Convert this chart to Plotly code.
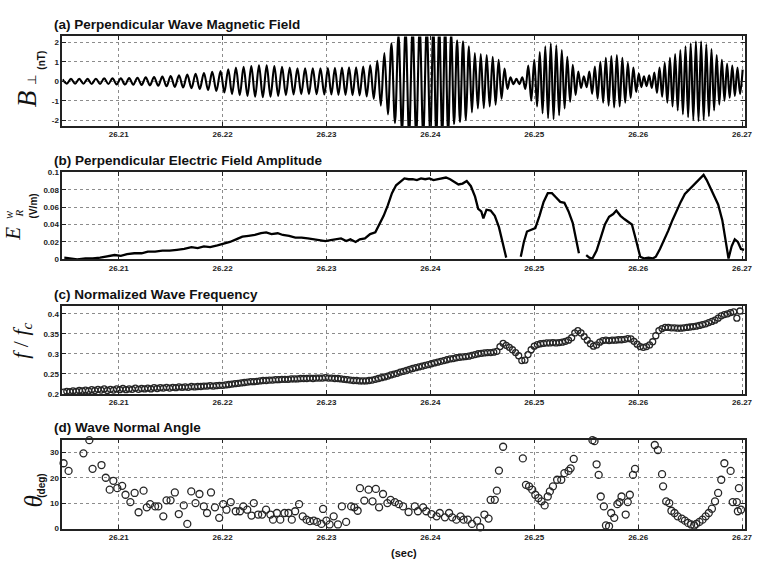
import numpy as np
import plotly.graph_objects as go

# ---------------- data (times in ms after 26.200 s) ----------------
x_tickvals = [26.21, 26.22, 26.23, 26.24, 26.25, 26.26, 26.27]
x_ticktext = ["26.21", "26.22", "26.23", "26.24", "26.25", "26.26", "26.27"]

# (a) perpendicular wave magnetic field: successive wave extrema (nT)
bperp_t_ms = [
    4.6, 5.0, 5.4, 5.8, 6.2, 6.6, 7.0, 7.4, 7.8, 8.2, 8.6, 9.0, 9.4, 9.8,
    10.2, 10.6, 11.0, 11.4, 11.8, 12.2, 12.6, 13.0, 13.4, 13.8, 14.2, 14.6, 15.0,
    15.4, 15.8, 16.2, 16.6, 17.0, 17.4, 17.8, 18.2, 18.6, 19.0, 19.4, 19.8,
    20.17, 20.54, 20.91, 21.28, 21.65, 22.02, 22.39, 22.76, 23.13, 23.50, 23.87,
    24.24, 24.61, 24.98, 25.35, 25.72, 26.09, 26.46, 26.83, 27.20, 27.57, 27.94,
    28.31, 28.68, 29.05, 29.42, 29.79,
    30.13, 30.47, 30.81, 31.15, 31.49, 31.83, 32.17, 32.51, 32.85, 33.19, 33.53,
    33.87, 34.21, 34.55, 34.89, 35.23, 35.57, 35.91, 36.25, 36.59, 36.93, 37.27,
    37.61, 37.95, 38.29, 38.63, 38.97, 39.31, 39.65, 39.99,
    40.28, 40.57, 40.85, 41.14, 41.42, 41.71, 42.00, 42.28, 42.57, 42.85, 43.14,
    43.42, 43.71, 44.00, 44.28, 44.57, 44.85, 45.14, 45.42, 45.71, 46.00, 46.28,
    46.57, 46.85, 47.14, 47.42, 47.71, 48.00, 48.28, 48.57, 48.85, 49.14, 49.42,
    49.71, 50.00,
    50.27, 50.53, 50.80, 51.06, 51.33, 51.59, 51.86, 52.12, 52.39, 52.65, 52.92,
    53.18, 53.45, 53.71, 53.98, 54.24, 54.51, 54.77, 55.04, 55.30, 55.57, 55.83,
    56.10, 56.36, 56.63, 56.89, 57.16, 57.42, 57.69, 57.95, 58.22, 58.48, 58.75,
    59.01, 59.28, 59.54, 59.81,
    60.06, 60.31, 60.56, 60.81, 61.06, 61.31, 61.56, 61.81, 62.06, 62.31, 62.56,
    62.81, 63.06, 63.31, 63.56, 63.81, 64.06, 64.31, 64.56, 64.81, 65.06, 65.31,
    65.56, 65.81, 66.06, 66.31, 66.56, 66.81, 67.06, 67.31, 67.56, 67.81, 68.06,
    68.31, 68.56, 68.81, 69.06, 69.31, 69.56, 69.81, 70.06,
]
bperp_nT = [
    0.10, -0.12, 0.12, -0.13, 0.12, -0.13, 0.12, -0.14, 0.13, -0.14, 0.15, -0.14, 0.15, -0.16,
    0.15, -0.17, 0.16, -0.18, 0.18, -0.19, 0.2, -0.21, 0.22, -0.23, 0.24, -0.26, 0.27,
    -0.29, 0.3, -0.32, 0.34, -0.36, 0.38, -0.4, 0.42, -0.45, 0.48, -0.5, 0.53,
    -0.58, 0.62, -0.66, 0.7, -0.72, 0.74, -0.76, 0.78, -0.8, 0.82, -0.82,
    0.82, -0.8, 0.78, -0.76, 0.74, -0.72, 0.7, -0.68, 0.67, -0.66, 0.66,
    -0.66, 0.66, -0.67, 0.67, -0.68,
    0.68, -0.68, 0.69, -0.7, 0.7, -0.7, 0.71, -0.72, 0.72, -0.73, 0.75,
    -0.78, 0.82, -0.9, 1.05, -1.25, 1.45, -1.7, 1.95, -2.15, 2.4, -2.6,
    2.7, -2.8, 2.8, -2.8, 2.8, -2.8, 2.8, -2.8,
    2.8, -2.8, 2.8, -2.8, 2.8, -2.7, 2.5, -2.2, 2.1, -2.1, 2.05,
    -2.0, 1.8, -1.6, 1.45, -1.4, 1.4, -1.38, 1.35, -1.3, 1.25, -1.2,
    1.1, -0.9, 0.65, -0.4, 0.2, -0.15, 0.12, -0.15, 0.2, -0.4, 0.8,
    -1.0, 1.1,
    -1.3, 1.5, -1.65, 1.8, -1.9, 1.95, -1.95, 1.85, -1.75, 1.6, -1.4,
    1.25, -1.05, 0.85, -0.7, 0.5, -0.35, 0.25, -0.3, 0.5, -0.65, 0.75,
    -0.9, 1.0, -1.1, 1.2, -1.25, 1.3, -1.35, 1.35, -1.3, 1.2, -1.1,
    0.95, -0.85, 0.7, -0.55,
    0.4, -0.3, 0.25, -0.25, 0.3, -0.35, 0.45, -0.6, 0.7, -0.8, 0.95,
    -1.1, 1.2, -1.3, 1.4, -1.5, 1.6, -1.7, 1.8, -1.85, 1.95, -2.0,
    2.05, -2.05, 2.05, -2.0, 1.9, -1.8, 1.65, -1.5, 1.35, -1.2, 1.1,
    -1.0, 0.9, -0.85, 0.8, -0.75, 0.7, -0.65, 0.6,
]

# (b) perpendicular electric field amplitude (V/m); None = data gap
efield_t_ms = [
    4.76, 5.3, 6.0, 6.8, 7.5, 8.2, 9.0, 9.6, 10.2, 10.8, 11.5, 12.2, 12.8, 13.5, 14.2,
    14.9, 15.6, 16.3, 17.0, 17.6, 18.2, 18.8, 19.5, 20.1, 20.7, 21.3, 21.9, 22.5, 23.1,
    23.7, 24.2, 24.7, 25.3, 25.8, 26.4, 27.0, 27.6, 28.2, 28.8, 29.4, 29.9, 30.4, 30.9,
    31.4, 31.9, 32.3, 32.8, 33.2, 33.7, 34.2, 34.7, 35.1, 35.5, 35.9, 36.3, 36.7, 37.1,
    37.5, 37.9, 38.3, 38.7, 39.1, 39.5, 39.9, 40.3, 40.7, 41.1, 41.5, 41.9, 42.3, 42.7,
    43.1, 43.5, 43.9, 44.3, 44.6, 44.9, 45.1, 45.4, 45.8, 46.2, 46.6, 47.0, 47.3,
    48.0,
    48.7, 49.0, 49.3, 49.7, 50.1, 50.5, 50.9, 51.3, 51.7, 52.1, 52.5, 52.9, 53.3, 53.7,
    54.0, 54.3,
    54.6,
    55.0, 55.3, 55.6, 56.0, 56.4, 56.8, 57.2, 57.6, 57.9, 58.3, 58.7, 59.1, 59.4, 59.8,
    60.2, 60.6, 61.0, 61.4, 61.7, 62.1, 62.5, 62.9, 63.3, 63.7, 64.1, 64.5, 64.9, 65.3,
    65.7, 66.0, 66.3, 66.6, 66.9, 67.3, 67.7, 68.1, 68.4, 68.7, 69.0, 69.3, 69.6, 69.9,
    70.2,
]
efield_vm = [
    0.002, 0.001, 0.0, 0.001, 0.001, 0.002, 0.004, 0.005, 0.004, 0.006, 0.007, 0.007, 0.009, 0.009, 0.010,
    0.010, 0.011, 0.012, 0.014, 0.013, 0.015, 0.014, 0.016, 0.018, 0.020, 0.023, 0.026, 0.027, 0.028,
    0.030, 0.031, 0.029, 0.030, 0.028, 0.027, 0.025, 0.025, 0.024, 0.023, 0.022, 0.021, 0.022, 0.023,
    0.024, 0.021, 0.023, 0.020, 0.023, 0.024, 0.029, 0.031, 0.040, 0.050, 0.062, 0.076, 0.085, 0.089,
    0.093, 0.092, 0.092, 0.091, 0.093, 0.092, 0.093, 0.091, 0.092, 0.093, 0.094, 0.092, 0.089, 0.086,
    0.087, 0.090, 0.084, 0.072, 0.058, 0.055, 0.047, 0.057, 0.056, 0.050, 0.037, 0.018, 0.002,
    None,
    0.003, 0.020, 0.032, 0.034, 0.036, 0.050, 0.066, 0.076, 0.076, 0.071, 0.066, 0.065, 0.055, 0.042,
    0.025, 0.007,
    None,
    0.005, 0.002, 0.001, 0.010, 0.025, 0.040, 0.049, 0.052, 0.056, 0.050, 0.046, 0.043, 0.040, 0.022,
    0.003, 0.001, 0.002, 0.001, 0.003, 0.012, 0.022, 0.033, 0.045, 0.056, 0.066, 0.075, 0.080, 0.085,
    0.090, 0.093, 0.097, 0.091, 0.083, 0.073, 0.063, 0.045, 0.025, 0.001, 0.015, 0.023, 0.020, 0.012,
    0.011,
]

# (c) normalized wave frequency f/fc, sampled every 0.3 ms from 4.7 ms
freq_start_ms = 4.7
freq_step_ms = 0.3
freq_ratio = [
    .204, .206, .205, .207, .206, .208, .207, .209, .207, .210, .208, .211, .209, .212, .208, .211,
    .209, .212, .210, .213, .210, .212, .211, .214, .211, .213, .212, .214, .212, .215, .213, .215,
    .214, .216, .214, .216, .215, .217, .216, .217, .216, .218, .217, .218, .218, .219, .219, .220,
    .219, .220, .221, .221, .222, .223, .224, .225, .226, .227, .228, .229, .230, .230, .231, .232,
    .233, .233, .234, .234, .235, .235, .236, .236, .236, .237, .237, .237, .238, .238, .238, .239,
    .238, .239, .239, .239, .240, .239, .239, .238, .238, .237, .236, .235, .234, .233, .233, .232,
    .232, .232, .233, .234, .236, .238, .240, .242, .244, .247, .249, .251, .254, .256, .258, .261,
    .263, .265, .267, .269, .271, .273, .275, .277, .279, .281, .283, .285, .287, .288, .290, .291,
    .292, .293, .294, .296, .298, .300, .301, .302, .303, .303, .304, .306, .318, .326, .321, .316,
    .310, .303, .295, .283, .284, .298, .310, .319, .323, .325, .326, .327, .327, .328, .327, .328,
    .329, .331, .334, .340, .352, .358, .352, .343, .334, .325, .319, .322, .329, .333, .334, .333,
    .334, .334, .335, .335, .336, .338, .337, .331, .324, .318, .316, .318, .322, .330, .345, .358,
    .363, .366, .366, .365, .365, .364, .364, .365, .366, .367, .368, .369, .371, .373, .375, .378,
    .381, .384, .389, .395, .398, .400, .403, .405, .389, .407, .425,
]

# (d) wave normal angle (deg)
wna_t_ms = [
    4.69, 5.17, 6.6, 7.17, 7.48, 8.34, 8.75, 9.13, 9.48, 9.86, 10.33, 10.65, 11.12, 11.53, 11.91,
    12.39, 12.7, 13.02, 13.5, 13.81, 14.29, 14.6, 14.99, 15.4, 15.78, 16.26, 16.6, 16.98, 17.39,
    17.77, 18.19, 18.5, 18.88, 19.26, 19.67, 20.05, 20.37, 20.78, 21.26, 21.67, 21.99, 22.37,
    22.78, 23.0, 23.42, 23.8, 24.18, 24.6, 24.85, 25.23, 25.55, 25.96, 26.34, 26.66, 26.98,
    27.36, 27.71, 28.08, 28.4, 28.78, 29.1, 29.51, 29.67, 29.99, 30.3, 30.69, 31.1, 31.48,
    31.89, 32.37, 32.68, 33.0, 33.22, 33.64, 34.05, 34.43, 34.75, 35.06, 35.44, 35.86, 36.17,
    36.58, 36.96, 37.37,
    37.9, 38.5, 38.8, 39.3, 39.6, 40.1, 40.6, 40.9, 41.4, 41.8, 42.1, 42.5, 42.9, 43.2, 43.6,
    44.0, 44.5, 44.8, 45.2, 45.6, 45.8, 46.2, 46.4, 46.6, 47.0, 48.9, 49.2, 49.5, 49.8, 50.1,
    50.4, 50.7, 51.0, 51.3, 51.5, 51.8, 52.2, 52.6, 52.9, 53.3, 53.5, 53.8, 55.6, 55.8, 56.0,
    56.2, 56.4, 56.7, 56.9, 57.2, 57.4, 57.7, 58.0, 58.2, 58.4, 58.8, 59.0, 59.2, 59.5, 59.7,
    61.6, 61.9, 62.3, 62.4, 62.7, 63.0, 63.2, 63.5, 63.8, 64.2, 64.5, 64.8, 65.1, 65.4, 65.6,
    65.9, 66.2, 66.5, 66.8, 67.1, 67.4, 67.7, 68.0, 68.3, 68.9, 69.1, 69.5, 69.6, 69.7, 69.9,
]
wna_deg = [
    25.7, 22.7, 29.6, 34.8, 23.5, 25, 20, 15.3, 18.8, 15.9, 16.8, 13.3, 10.4, 14, 6.4,
    14.9, 8.3, 9.6, 8.7, 8.7, 4.8, 11.1, 11.1, 14.2, 5.7, 9.1, 1.8, 14.6, 10,
    13.6, 8.7, 6.1, 14.2, 8.3, 4.2, 9.6, 7.4, 10.4, 6.8, 6.8, 8.7, 7.4,
    5.1, 10, 5.5, 5.5, 7.4, 5.5, 3.5, 6.1, 3.5, 6.1, 6.1, 3.5, 6.8,
    9.6, 4.8, 3.5, 2.9, 3.1, 2.6, 1.8, 7.7, 3.1, 1.6, 4.8, 1.6, 8.7,
    2.6, 8.7, 8.3, 7, 15.9, 11, 15.3, 10.7, 15.6, 8.3, 13.6, 10, 11.3,
    10.4, 9.6, 8.7,
    6.5, 8.7, 6.8, 8.3, 6.8, 5.7, 4.8, 6.1, 4.4, 6.1, 4.4, 3.5, 4.8, 3.5, 3.5,
    1.8, 3.1, 0.5, 5.5, 3.9, 11.3, 11.3, 14.9, 22.8, 32.2, 27.6, 17.2, 16.6, 15.3, 13.3,
    12, 10.7, 9.1, 12.6, 14.6, 16.6, 19.2, 19.2, 21.8, 22.7, 23.7, 27.4, 34.8, 34.4, 25.3,
    21.1, 12.6, 8.7, 1.2, 0.9, 6.1, 4.2, 9.6, 10.4, 12.6, 5.5, 10.4, 13.3, 21.1, 23.5,
    32.9, 30.9, 21.4, 16.6, 10.7, 10, 7, 6.1, 4.8, 3.9, 3.1, 2.2, 1.6, 1.2, 1.8,
    2.6, 3.5, 4.8, 6.1, 7.8, 10.7, 14, 19.2, 25.7, 22.7, 10.4, 10.4, 6.8, 15.9, 7.4,
]

bperp_ticks = [-2, -1, 0, 1, 2]
bperp_ticktext = ["-2", "-1", "0", "1", "2"]
efield_ticks = [0, 0.02, 0.04, 0.06, 0.08, 0.1]
efield_ticktext = ["0", "0.02", "0.04", "0.06", "0.08", "0.1"]
freq_ticks = [0.2, 0.25, 0.3, 0.35, 0.4]
freq_ticktext = ["0.2", "0.25", "0.3", "0.35", "0.4"]
wna_ticks = [0, 10, 20, 30]
wna_ticktext = ["0", "10", "20", "30"]

panel_titles = [
    "(a) Perpendicular Wave Magnetic Field",
    "(b) Perpendicular Electric Field Amplitude",
    "(c) Normalized Wave Frequency",
    "(d) Wave Normal Angle",
]

# ---------------- conversion ----------------
T0 = 26.2
def to_sec(ms_list):
    return [None if v is None else T0 + v / 1000.0 for v in ms_list]

freq_t_ms = freq_start_ms + freq_step_ms * np.arange(len(freq_ratio))

W, H = 757, 565
def px(x):
    return x / W
def py(y):
    return 1 - y / H

fig = go.Figure()

fig.add_trace(go.Scatter(x=to_sec(bperp_t_ms), y=bperp_nT, mode="lines",
                         line=dict(color="black", width=2.1, shape="spline", smoothing=1.0),
                         xaxis="x", yaxis="y", showlegend=False))
fig.add_trace(go.Scatter(x=to_sec(efield_t_ms), y=efield_vm, mode="lines", connectgaps=False,
                         line=dict(color="black", width=2.3),
                         xaxis="x2", yaxis="y2", showlegend=False))
fig.add_trace(go.Scatter(x=to_sec(list(freq_t_ms)), y=freq_ratio, mode="markers",
                         marker=dict(symbol="circle-open", size=6, color="#262626",
                                     line=dict(width=1.3, color="#262626")),
                         cliponaxis=False,
                         xaxis="x3", yaxis="y3", showlegend=False))
fig.add_trace(go.Scatter(x=to_sec(wna_t_ms), y=wna_deg, mode="markers",
                         marker=dict(symbol="circle-open", size=7, color="#262626",
                                     line=dict(width=1.3, color="#262626")),
                         cliponaxis=False,
                         xaxis="x4", yaxis="y4", showlegend=False))

tickfont = dict(family="Liberation Sans", size=8, color="#222", weight="bold")
x_range = [26.20457, 26.27029]
x_dom = [px(63), px(753)]
panel_px = [(33, 124), (171, 259.5), (306.7, 396), (442.7, 533)]
y_ranges = [[-2.3, 2.3], [0, 0.1], [0.2, 0.42], [0, 35]]
y_tv = [bperp_ticks, efield_ticks, freq_ticks, wna_ticks]
y_tt = [bperp_ticktext, efield_ticktext, freq_ticktext, wna_ticktext]

def axis_common():
    return dict(showline=True, linecolor="#222", linewidth=1.5, mirror="ticks",
                ticks="inside", ticklen=4, tickcolor="#222", tickwidth=1,
                showgrid=True, gridcolor="#8c8c8c", griddash="dot", gridwidth=1,
                zeroline=False, tickfont=tickfont, ticklabeloverflow="allow")

layout_axes = {}
for i in range(4):
    sfx = "" if i == 0 else str(i + 1)
    top, bot = panel_px[i]
    xa = axis_common()
    xa.update(domain=x_dom, range=x_range, tickmode="array", tickvals=x_tickvals,
              ticktext=x_ticktext, anchor="y" + sfx)
    ya = axis_common()
    ya.update(domain=[py(bot), py(top)], range=y_ranges[i], tickmode="array",
              tickvals=y_tv[i], ticktext=y_tt[i], anchor="x" + sfx)
    layout_axes["xaxis" + sfx] = xa
    layout_axes["yaxis" + sfx] = ya

fig.update_layout(width=W, height=H, margin=dict(l=0, r=0, t=0, b=0),
                  paper_bgcolor="white", plot_bgcolor="white", showlegend=False,
                  **layout_axes)

title_font = dict(family="Liberation Sans", size=13.5, color="#111", weight="bold")
title_y = [21, 159.3, 295.7, 430]
ann = []
for t, yy in zip(panel_titles, title_y):
    ann.append(dict(text=t, x=px(53), y=py(yy), xref="paper", yref="paper",
                    xanchor="left", yanchor="middle", showarrow=False, font=title_font))

serif = "Liberation Serif"
lab_bold = dict(family="Liberation Sans", size=10, color="#111", weight="bold")
def rot(text, x, y, font):
    return dict(text=text, x=px(x), y=py(y), xref="paper", yref="paper",
                xanchor="center", yanchor="middle", showarrow=False,
                textangle=-90, font=font)

ann += [
    rot("<i>B</i>", 27.5, 96.5, dict(family=serif, size=27, color="#111")),
    rot("⊥", 33, 77.5, dict(family="DejaVu Sans", size=12, color="#111")),
    rot("(nT)", 42, 57, lab_bold),
    rot("<i>E</i>", 13.5, 233, dict(family=serif, size=21, color="#111")),
    rot("<i>w</i>", 8.5, 214, dict(family=serif, size=12, color="#111")),
    rot("<i>R</i>", 19, 213, dict(family=serif, size=11, color="#111")),
    rot("(V/m)", 34, 205, lab_bold),
    rot("<i>f</i> / <i>f</i><sub><i>c</i></sub>", 21.5, 342,
        dict(family=serif, size=22, color="#111")),
    rot("<i>θ</i>", 34, 506, dict(family=serif, size=25, color="#111")),
    rot("(deg)", 42, 490, lab_bold),
    dict(text="(sec)", x=px(408), y=py(558), xref="paper", yref="paper",
         xanchor="center", yanchor="middle", showarrow=False,
         font=dict(family="Liberation Sans", size=11, color="#111", weight="bold")),
]
fig.update_layout(annotations=ann)

fig.write_html("out.html")
